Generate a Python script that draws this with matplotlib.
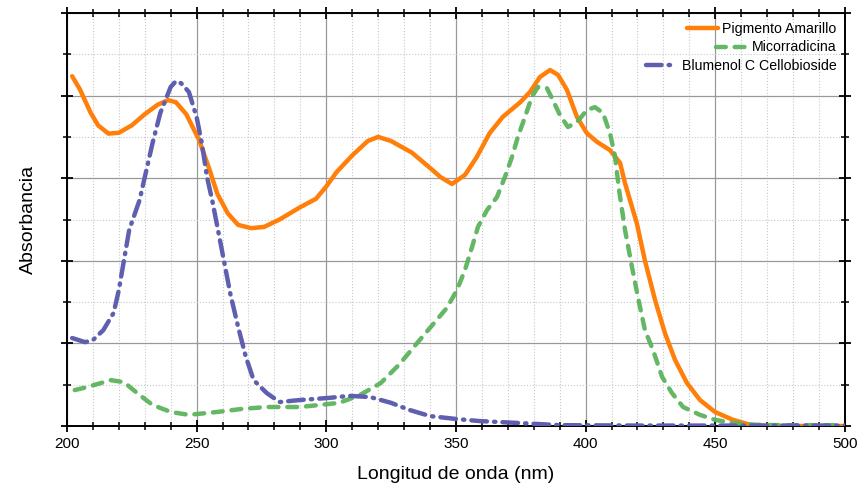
import numpy as np
import matplotlib
matplotlib.use("Agg")
import matplotlib.pyplot as plt
from matplotlib.ticker import MultipleLocator

plt.rcParams['font.family'] = ['Liberation Sans', 'DejaVu Sans']

# Pigmento Amarillo (solid orange)
wl_pig = [202, 205, 209, 212, 216, 220, 225, 230, 235, 239, 242, 246, 251, 255, 258,
          262, 266, 271, 276, 282, 290, 296, 300, 304, 310, 316, 320, 325, 333, 340,
          344, 348.5, 353.5, 358, 363, 368, 375, 378.6, 382.4, 386.3, 389.4, 392.8, 396.7, 400.5, 404.4,
          409.4, 413.3, 415.2, 419.8, 422.9, 426.8, 430.6, 434.5, 439.1, 444.1, 449.9, 456.8, 463.4, 470,
          480, 490, 500]
abs_pig = [0.847, 0.815, 0.760, 0.728, 0.708, 0.710, 0.728, 0.755, 0.778, 0.789, 0.784, 0.755, 0.692, 0.620, 0.562,
           0.515, 0.487, 0.479, 0.482, 0.500, 0.530, 0.550, 0.580, 0.615, 0.655, 0.690, 0.700, 0.690, 0.662, 0.625,
           0.603, 0.586, 0.608, 0.651, 0.709, 0.748, 0.785, 0.809, 0.845, 0.862, 0.850, 0.814, 0.748, 0.709, 0.688,
           0.668, 0.637, 0.588, 0.490, 0.400, 0.305, 0.225, 0.160, 0.104, 0.063, 0.034, 0.015, 0.003, 0.000,
           0.000, 0.000, 0.000]

# Micorradicina (dashed green)
wl_mic = [203, 207, 212, 217, 222, 228, 233, 240, 247, 258, 267, 277, 290, 305, 313,
          321, 328, 336, 341, 346.5, 350.4, 353.5, 356.2, 358.5, 362, 365.8, 368.9, 371.6, 373.9, 376.6,
          379.3, 381.6, 385.1, 387.4, 390.1, 393.2, 396.7, 400.5, 403.6, 406.7, 409.4, 411.3, 413, 415.2, 417.9,
          420.2, 422.9, 426, 429.5, 433.3, 437.6, 444.1, 449.9, 457, 465, 475, 485, 496]
abs_mic = [0.087, 0.093, 0.102, 0.111, 0.106, 0.075, 0.051, 0.034, 0.027, 0.034, 0.041, 0.046, 0.046, 0.056, 0.075,
           0.104, 0.148, 0.208, 0.245, 0.286, 0.329, 0.378, 0.433, 0.482, 0.523, 0.554, 0.603, 0.651, 0.700, 0.748,
           0.797, 0.821, 0.818, 0.789, 0.753, 0.724, 0.736, 0.765, 0.772, 0.758, 0.709, 0.655, 0.568, 0.475, 0.385,
           0.312, 0.232, 0.184, 0.119, 0.080, 0.046, 0.027, 0.015, 0.007, 0.003, 0.002, 0.002, 0.002]

# Blumenol C Cellobioside (dash-dot blue)
wl_blu = [202, 207, 210, 214, 218, 220, 224, 228, 233, 236, 240, 242, 244, 247, 250,
          252, 254, 256, 259, 263, 266, 269, 272, 277, 282, 290, 301, 309, 317, 325,
          332, 340, 350, 359, 375, 390, 420, 460, 500]
abs_blu = [0.213, 0.203, 0.208, 0.232, 0.274, 0.329, 0.475, 0.547, 0.685, 0.758, 0.821, 0.835, 0.830, 0.809, 0.748,
           0.685, 0.603, 0.547, 0.450, 0.320, 0.240, 0.167, 0.111, 0.080, 0.058, 0.063, 0.068, 0.073, 0.070, 0.056,
           0.039, 0.024, 0.017, 0.012, 0.007, 0.002, 0.001, 0.001, 0.001]

fig = plt.figure(figsize=(8.63, 4.91), dpi=100)
ax = fig.add_axes([0.0776, 0.1324, 0.9014, 0.8411])

ax.plot(wl_pig, abs_pig, color='#ff7f0a', lw=3.2, label='Pigmento Amarillo', zorder=3,
        solid_capstyle='round', solid_joinstyle='round')
ax.plot(wl_mic, abs_mic, color='#5cb35c', lw=3.2, ls=(0, (2.2, 2.0)), label='Micorradicina',
        zorder=4, dash_capstyle='round', alpha=0.95)
ax.plot(wl_blu, abs_blu, color='#5f5fb0', lw=3.2, ls=(0, (3.5, 1.6, 0.3, 1.6)),
        label='Blumenol C Cellobioside', zorder=5, dash_capstyle='round')

ax.set_xlim(200, 500)
ax.set_ylim(0, 1)
ax.xaxis.set_major_locator(MultipleLocator(50))
ax.xaxis.set_minor_locator(MultipleLocator(10))
ax.yaxis.set_major_locator(MultipleLocator(0.2))
ax.yaxis.set_minor_locator(MultipleLocator(0.1))
ax.grid(which='major', color='#999999', lw=0.9, ls='-')
ax.grid(which='minor', color='#c8c8c8', lw=0.8, ls=':')
ax.set_axisbelow(True)

ax.tick_params(which='major', direction='inout', length=9, width=1.3,
               top=True, right=True, labelsize=11, colors='black')
ax.tick_params(which='minor', direction='inout', length=6, width=1.1,
               top=True, right=True)
ax.tick_params(axis='y', labelleft=False)
for s in ax.spines.values():
    s.set_linewidth(1.4)

ax.set_xlabel('Longitud de onda (nm)', fontsize=14, labelpad=11)
ax.set_ylabel('Absorbancia', fontsize=14, labelpad=15)

leg = ax.legend(loc='upper right', frameon=False, fontsize=10.2, handlelength=2.2,
                handletextpad=0.3, labelspacing=0.35, borderaxespad=0.2)
for col in leg._legend_handle_box.get_children():
    col.align = 'right'

fig.savefig('out.png', dpi=100)
